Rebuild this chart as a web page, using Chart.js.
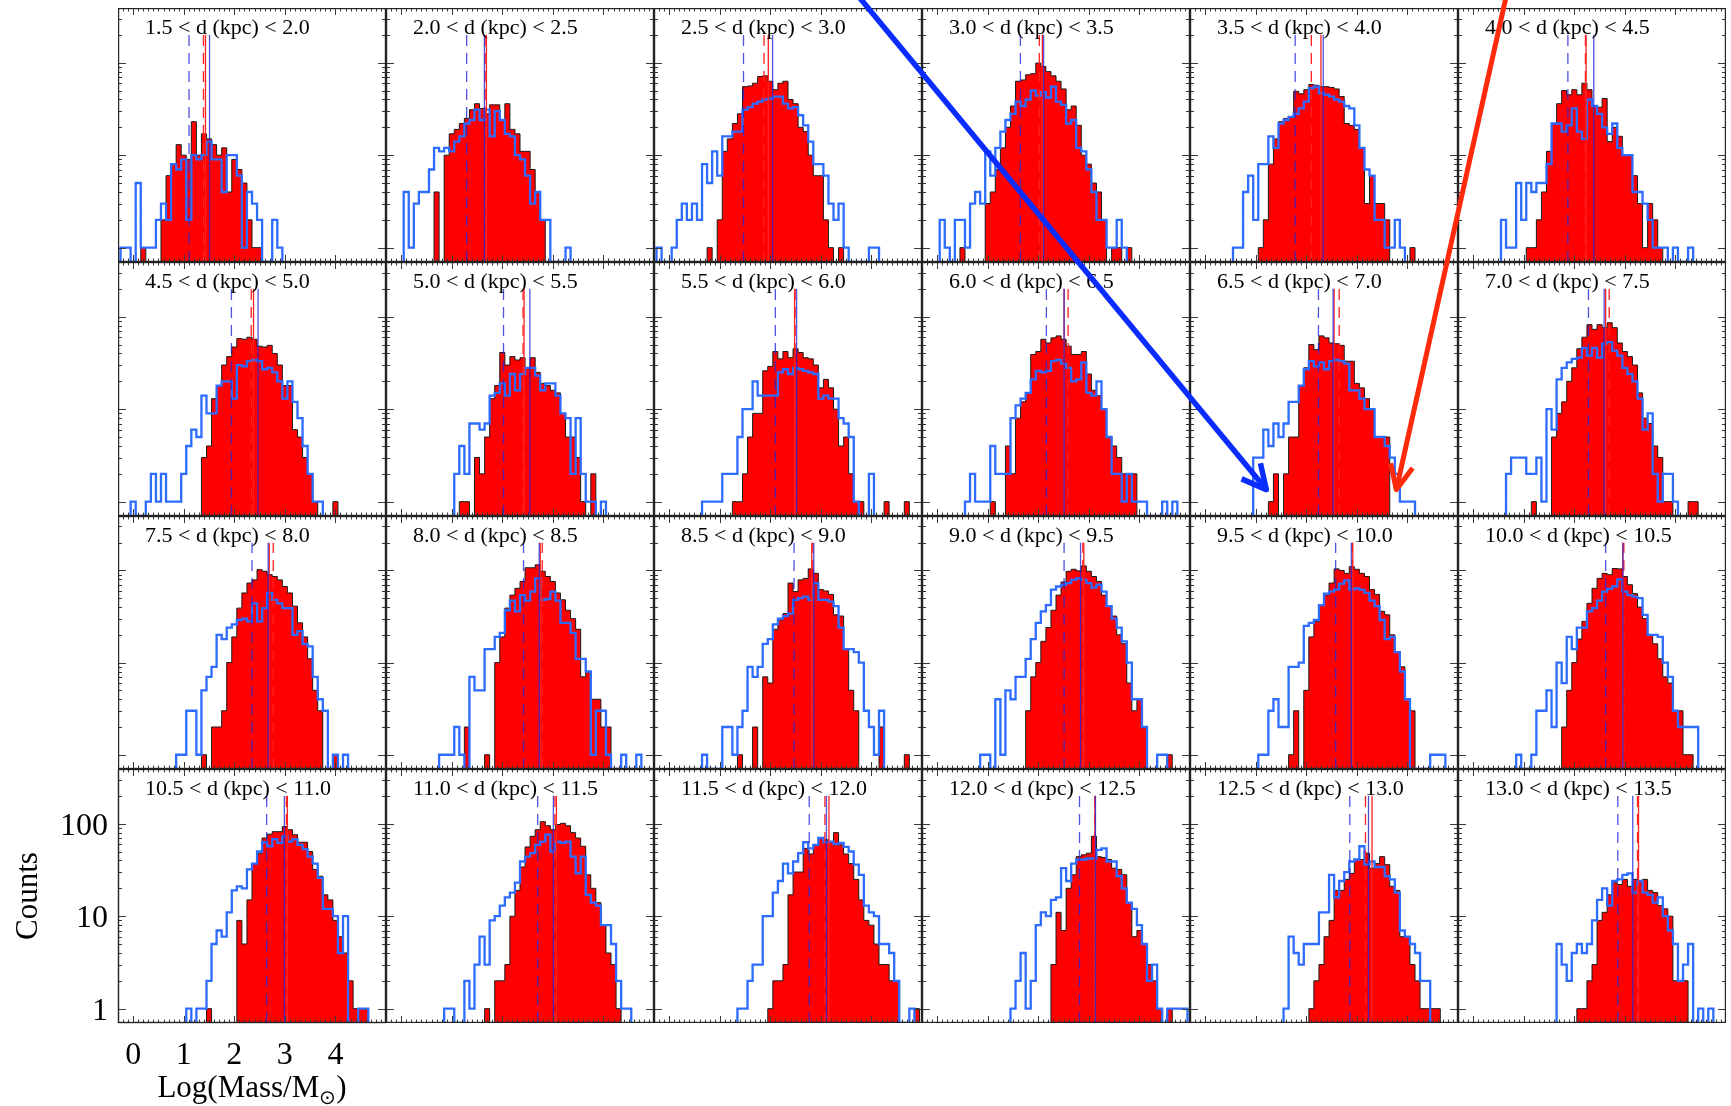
<!DOCTYPE html>
<html>
<head>
<meta charset="utf-8">
<script src="https://cdn.jsdelivr.net/npm/chart.js@4.4.1/dist/chart.umd.min.js"></script>
<style>
  html, body { margin: 0; padding: 0; background: #fff; }
  #page { position: relative; width: 1731px; height: 1106px; overflow: hidden; background: #fff; }
  #page canvas { position: absolute; }
</style>
</head>
<body>
<div id="page"></div>
<script>
// distance bins, one panel each
const panelLabels = [
  '1.5 < d (kpc) < 2.0', '2.0 < d (kpc) < 2.5', '2.5 < d (kpc) < 3.0', '3.0 < d (kpc) < 3.5', '3.5 < d (kpc) < 4.0', '4.0 < d (kpc) < 4.5',
  '4.5 < d (kpc) < 5.0', '5.0 < d (kpc) < 5.5', '5.5 < d (kpc) < 6.0', '6.0 < d (kpc) < 6.5', '6.5 < d (kpc) < 7.0', '7.0 < d (kpc) < 7.5',
  '7.5 < d (kpc) < 8.0', '8.0 < d (kpc) < 8.5', '8.5 < d (kpc) < 9.0', '9.0 < d (kpc) < 9.5', '9.5 < d (kpc) < 10.0', '10.0 < d (kpc) < 10.5',
  '10.5 < d (kpc) < 11.0', '11.0 < d (kpc) < 11.5', '11.5 < d (kpc) < 12.0', '12.0 < d (kpc) < 12.5', '12.5 < d (kpc) < 13.0', '13.0 < d (kpc) < 13.5'
];

// red (filled) histograms: centre of first bin, then counts per 0.1 dex bin
const redStart = [0.2, 0.7, 0.8, 0.5, 1.1, 1.1, 1.4, 1.2, 1.3, 1.1, 1.3, 1.2, 1.4, 1.3, 1.4, 1.8, 1.7, 1.8, 1.5, 1.7, 2.0, 2.3, 2.1, 2.1];
const redCounts = [
  [1,0,0,0,2,6,8,13,10,9,23,10,17,15,13,10,12,4,9,7,5,2,1,1],
  [4,0,10,17,19,22,25,31,36,32,28,35,35,24,36,19,17,11,11,7,4,2],
  [1,0,2,11,15,22,28,55,56,60,71,72,63,51,60,63,40,36,20,18,10,6,6,2,1,0,1],
  [1,0,0,0,0,3,4,7,12,20,34,63,65,74,76,99,91,80,72,63,52,31,34,21,10,8,5,4,2,0,1,1,0,1],
  [1,2,8,15,23,25,26,49,46,51,58,57,55,55,54,52,43,22,21,19,12,3,6,3,3,2,0,0,0,0,1],
  [1,1,2,4,11,22,36,50,45,51,45,60,51,34,33,41,14,20,16,10,10,6,3,1,3,2,1],
  [3,4,13,18,30,37,47,58,57,60,57,48,47,49,40,30,18,18,6,5,3,2,1,0,0,0,1],
  [1,1,0,3,2,5,13,18,41,30,37,34,36,28,36,25,19,18,16,15,9,5,5,3,1,0,2],
  [1,1,2,5,9,9,26,29,42,35,42,36,45,41,36,35,30,17,21,17,10,4,5,2,1,1,0,0,0,0,1,0,0,0,1],
  [1,0,0,4,2,8,12,15,39,42,57,52,59,62,57,48,39,39,42,24,16,14,10,5,4,3,2,2,2],
  [1,2,0,2,5,5,18,28,50,44,62,59,52,51,49,33,33,19,17,13,10,5,5,5],
  [1,0,0,0,5,9,12,20,28,45,60,82,73,82,76,86,76,52,42,37,30,15,8,7,4,3,1,1,0,0,0,1,1],
  [1,0,2,2,3,10,19,39,57,73,79,102,98,90,86,79,67,57,41,27,19,11,5,3,0,0,1],
  [2,0,0,0,1,0,10,19,39,54,64,76,107,107,115,98,86,76,57,48,37,30,23,7,8,4,4,2,2],
  [1,0,0,2,0,7,6,23,29,34,73,59,79,82,104,93,62,60,55,33,32,14,5,3,0,0,0,0,2,0,0,0,0,1],
  [3,7,10,17,24,37,54,75,98,103,99,112,98,86,76,54,41,32,20,16,6,3,4,2,0,0,0,0,1],
  [1,3,0,5,19,28,42,54,73,104,100,93,110,103,93,86,62,55,36,33,20,13,9,4,3],
  [2,5,10,18,28,44,64,82,93,90,105,104,86,70,56,40,30,20,16,11,7,6,3,3,1,1],
  [1,0,0,0,0,0,9,5,15,37,48,70,77,82,82,93,86,76,63,63,50,32,27,17,15,9,6,4,2,1,1,1],
  [1,0,2,2,3,10,19,34,56,73,86,105,95,86,98,101,95,80,70,57,28,20,14,8,4,3,1],
  [1,2,2,3,17,30,30,54,47,59,70,67,64,80,59,47,37,25,15,9,8,5,3,3,2,2,0,0,0,1],
  [3,11,7,20,28,44,46,48,73,44,43,41,33,32,28,14,6,7,5,3,2,1,0,1],
  [1,2,3,6,9,19,19,25,29,41,41,48,33,37,44,36,21,19,6,6,3,2,1,1,1,1],
  [1,1,2,3,9,11,17,23,22,25,21,25,24,25,19,18,13,12,10,2,2,2]
];

// blue (outline) histograms
const blueStart = [-0.2, 0.1, -0.2, 0.1, 0.6, 0.6, 0.0, 1.1, 0.7, 0.6, 1.0, 0.7, 0.9, 0.8, 0.7, 0.9, 1.1, 0.9, 1.1, 0.9, 1.4, 1.5, 1.6, 1.7];
const blueCounts = [
  [1,1,0,5,1,1,1,2,3,2,8,7,9,2,10,9,10,14,9,9,4,10,10,6,1,4,3,2,0,0,2,1],
  [4,1,3,4,4,7,12,11,12,11,14,16,22,24,31,24,31,16,30,24,17,16,10,9,6,3,4,2,2,0,0,0,1],
  [1,0,0,1,2,3,2,3,2,8,5,11,6,16,16,18,18,31,33,36,38,40,41,43,43,36,32,33,27,21,14,8,8,6,3,2,3,1,0,0,0,0,1,1],
  [2,1,0,2,2,1,3,4,3,11,6,12,18,24,28,38,34,40,50,44,48,42,55,38,35,22,24,12,11,7,4,2,2,1,1,2,1],
  [1,1,4,6,2,8,8,16,12,22,24,26,28,32,38,53,55,47,45,43,40,38,34,32,21,12,7,6,2,2,1,1,2,1],
  [2,1,1,5,2,5,4,5,5,8,22,22,18,21,32,18,15,40,34,28,20,17,22,12,10,10,4,4,3,2,1,1,1,0,1,0,0,1],
  [1,0,0,1,2,1,2,1,1,1,2,4,6,5,14,9,9,18,20,20,13,30,29,33,34,33,27,28,25,20,13,20,12,8,4,2,1,1],
  [2,4,2,7,7,6,7,14,15,19,14,24,16,24,28,28,23,16,19,19,14,9,8,2,8,2,1,1,0,1],
  [1,1,1,1,2,2,2,5,10,10,20,14,14,14,14,25,27,24,28,27,26,25,24,13,14,13,13,8,7,5,1,0,0,2],
  [1,2,1,1,1,4,2,2,2,8,11,13,15,21,26,25,26,33,34,31,28,20,21,32,15,14,20,10,5,2,2,1,2,1,1,1,0,0,0,1,0,1],
  [3,3,6,4,7,5,7,12,12,18,27,33,29,32,27,33,34,33,31,16,16,13,10,10,5,5,4,3,2,1,1,1],
  [2,3,3,3,2,2,3,1,10,6,21,28,32,35,36,46,38,46,36,51,53,43,38,28,24,20,13,6,9,2,1,2,2,1],
  [1,1,3,3,1,5,7,9,20,18,24,26,29,30,28,44,28,39,57,48,44,39,39,20,22,16,15,7,4,3,0,1,0,1],
  [1,1,1,2,1,0,7,5,5,14,14,19,21,37,47,36,54,47,59,82,48,49,59,47,27,27,21,11,11,8,1,3,3,1,0,0,1,0,0,1],
  [1,0,0,0,2,2,1,2,3,9,7,9,16,18,26,30,32,34,48,50,52,48,73,48,48,46,41,24,14,14,13,10,3,2,1,3],
  [1,1,0,4,1,5,4,7,7,11,18,27,36,42,62,67,70,73,79,82,79,73,65,70,59,41,30,24,17,10,4,4,2,0,0,1,1],
  [1,1,3,4,2,2,9,9,10,25,27,29,42,56,59,62,72,78,62,64,62,57,47,41,29,18,19,13,8,4,0,0,0,0,1,1,1],
  [1,0,0,1,3,3,5,2,10,6,19,14,24,24,36,39,47,59,63,67,80,59,54,52,50,33,20,20,19,10,7,3,2,2,2,2],
  [1,0,1,1,2,5,7,6,11,19,21,20,32,37,50,63,57,68,62,73,64,68,59,53,44,37,26,12,12,10,4,10,0,0,1,1],
  [1,1,0,0,2,1,3,6,3,9,10,13,16,18,23,39,44,48,59,64,76,50,64,62,64,44,29,44,17,14,13,8,8,5,2,1,1],
  [1,1,2,3,3,10,10,18,24,37,29,39,48,63,54,59,70,63,64,60,62,56,50,36,28,13,11,10,5,5,4,2,0,0,1],
  [1,2,4,1,2,8,11,10,15,16,33,24,37,41,41,42,42,52,54,39,39,27,20,14,12,8,5,2,3,1,0,1,1,1,1],
  [1,6,4,3,5,5,5,11,11,28,16,24,30,39,41,57,36,39,34,34,27,25,18,7,6,5,4,2,2],
  [5,3,2,4,5,4,5,9,15,20,13,24,25,28,29,18,24,18,17,14,16,10,7,5,2,3,5,0,1,0,1]
];

// vertical markers (log mass) per panel
const redLine  = [1.43, 1.686, 1.96, 2.08, 2.29, 2.234, 2.38, 2.43, 2.48, 2.51, 2.55, 2.62, 2.69, 2.75, 2.82, 2.90, 2.92, 2.96, 3.05, 3.07, 3.16, 3.12, 3.30, 3.27];
const redDash  = [1.39, 1.66, 1.876, 2.02, 2.10, 2.22, 2.335, 2.41, 2.49, 2.59, 2.65, 2.69, 2.77, 2.79, 2.84, 2.88, 2.91, 2.98, 3.03, 3.04, 3.08, 3.12, 3.17, 3.25];
const blueLine = [1.51, 1.646, 2.045, 2.105, 2.335, 2.385, 2.47, 2.545, 2.52, 2.51, 2.53, 2.59, 2.67, 2.73, 2.86, 2.835, 2.89, 2.96, 2.99, 3.01, 3.11, 3.13, 3.23, 3.156];
const blueDash = [1.105, 1.295, 1.47, 1.646, 1.78, 1.873, 1.943, 2.024, 2.10, 2.16, 2.24, 2.28, 2.35, 2.42, 2.47, 2.51, 2.58, 2.62, 2.64, 2.70, 2.77, 2.815, 2.86, 2.86];

const xTickLabels = [0, 1, 2, 3, 4];
const yTickLabels = [1, 10, 100];

// arrows, in data units of the 6.5-7.0 panel
const arrowPanel = 10;
const arrowFrom = [[-6.92, 3.2e5], [5.97, 3.2e5]];
const arrowTo = [[1.21, 1.35], [3.78, 1.35]];

const X_MIN = -0.3, X_MAX = 5.0, Y_MIN = 0.7, Y_MAX = 390, BIN = 0.1, LINE_TOP = 200;
const SERIF = '"Liberation Serif", "Times New Roman", serif';

function steps(start, counts) {
  const x0 = start - BIN / 2;
  const pts = [{ x: x0, y: Y_MIN }];
  counts.forEach((c, i) => pts.push({ x: x0 + i * BIN, y: c > 0 ? c : Y_MIN }));
  pts.push({ x: x0 + counts.length * BIN, y: Y_MIN });
  return pts;
}

function vline(x, color, dash, order) {
  return {
    data: [{ x: x, y: Y_MIN }, { x: x, y: LINE_TOP }],
    borderColor: color, borderWidth: 1.3, borderDash: dash,
    pointRadius: 0, fill: false, order: order
  };
}

function decoPlugin(label) {
  return {
    id: 'panelDeco',
    afterDatasetsDraw(chart) {
      const { ctx, chartArea: a, scales: { x, y } } = chart;
      ctx.save();
      ctx.strokeStyle = '#3a3a3a';
      ctx.lineWidth = 1;
      ctx.beginPath();
      for (let k = -3; k <= 50; k++) {
        const px = Math.round(x.getPixelForValue(k / 10)) + 0.5;
        const len = k % 10 === 0 ? 7 : 3.5;
        ctx.moveTo(px, a.bottom); ctx.lineTo(px, a.bottom - len);
        ctx.moveTo(px, a.top); ctx.lineTo(px, a.top + len);
      }
      for (let d = 0; d <= 2; d++) {
        for (let m = 1; m <= 9; m++) {
          const v = m * Math.pow(10, d);
          if (v > Y_MAX) continue;
          const py = Math.round(y.getPixelForValue(v)) + 0.5;
          const len = m === 1 ? 8 : 4;
          ctx.moveTo(a.left, py); ctx.lineTo(a.left + len, py);
          ctx.moveTo(a.right, py); ctx.lineTo(a.right - len, py);
        }
      }
      ctx.stroke();
      ctx.strokeStyle = '#222';
      ctx.lineWidth = 1.4;
      ctx.strokeRect(a.left + 0.5, a.top + 0.5, a.width - 1, a.height - 1);
      ctx.fillStyle = '#000';
      ctx.font = '22px ' + SERIF;
      ctx.textAlign = 'left';
      ctx.textBaseline = 'alphabetic';
      ctx.fillText(label, a.left + 27, a.top + 26);
      ctx.restore();
    }
  };
}

const axisPlugin = {
  id: 'axisLabels',
  afterDraw(chart) {
    const { ctx, chartArea: a, scales: { x, y } } = chart;
    ctx.save();
    ctx.fillStyle = '#000';
    ctx.font = '32px ' + SERIF;
    ctx.textAlign = 'center';
    ctx.textBaseline = 'alphabetic';
    xTickLabels.forEach(v => ctx.fillText(String(v), x.getPixelForValue(v), a.bottom + 41));
    ctx.textAlign = 'right';
    yTickLabels.forEach(v => ctx.fillText(String(v), a.left - 10, y.getPixelForValue(v) + 11));
    // y title
    ctx.save();
    ctx.translate(37, a.top + a.height / 2);
    ctx.rotate(-Math.PI / 2);
    ctx.textAlign = 'center';
    ctx.font = '31px ' + SERIF;
    ctx.fillText('Counts', 0, 0);
    ctx.restore();
    // x title with subscript sun symbol
    const main = 'Log(Mass/M', sub = '\u2299', tail = ')';
    ctx.font = '31px ' + SERIF;
    const w1 = ctx.measureText(main).width, w3 = ctx.measureText(tail).width;
    ctx.font = '20px ' + SERIF;
    const w2 = ctx.measureText(sub).width;
    let cx = a.left + a.width / 2 - (w1 + w2 + w3) / 2;
    const base = a.bottom + 74;
    ctx.textAlign = 'left';
    ctx.font = '31px ' + SERIF;
    ctx.fillText(main, cx, base); cx += w1;
    ctx.font = '20px ' + SERIF;
    ctx.fillText(sub, cx, base + 7); cx += w2;
    ctx.font = '31px ' + SERIF;
    ctx.fillText(tail, cx, base);
    ctx.restore();
  }
};

const page = document.getElementById('page');
const charts = [];
const offsets = [];
const GRID_LEFT = 118, GRID_TOP = 8, PANEL_W = 268, PANEL_H = 253.75, PAGE_H = 1106;

for (let i = 0; i < panelLabels.length; i++) {
  const r = Math.floor(i / 6), c = i % 6;
  const top = GRID_TOP + Math.round(r * PANEL_H);
  const bottom = GRID_TOP + Math.round((r + 1) * PANEL_H);
  const left = GRID_LEFT + c * PANEL_W;
  const corner = (r === 3 && c === 0);
  const cv = document.createElement('canvas');
  const cl = corner ? 0 : left;
  const cw = corner ? left + PANEL_W : PANEL_W;
  const ch = corner ? PAGE_H - top : bottom - top;
  cv.width = cw; cv.height = ch;
  cv.style.left = cl + 'px'; cv.style.top = top + 'px';
  cv.style.width = cw + 'px'; cv.style.height = ch + 'px';
  page.appendChild(cv);
  offsets.push({ left: cl, top: top });

  const plugins = [decoPlugin(panelLabels[i])];
  if (corner) plugins.push(axisPlugin);

  charts.push(new Chart(cv.getContext('2d'), {
    type: 'line',
    data: {
      datasets: [
        { data: steps(redStart[i], redCounts[i]), stepped: 'before', fill: 'start',
          backgroundColor: '#ff0000', borderColor: '#1a1a1a', borderWidth: 1, pointRadius: 0, order: 6 },
        { data: steps(blueStart[i], blueCounts[i]), stepped: 'before', fill: false,
          borderColor: 'rgb(45,108,255)', borderWidth: 2.3, pointRadius: 0, order: 5 },
        vline(redDash[i], '#ff2020', [11, 7], 4),
        vline(redLine[i], '#ff2020', [], 3),
        vline(blueDash[i], 'rgba(35,40,215,0.8)', [11, 7], 2),
        vline(blueLine[i], 'rgba(35,40,215,0.8)', [], 1)
      ]
    },
    options: {
      responsive: false,
      animation: false,
      devicePixelRatio: 1,
      events: [],
      layout: { padding: corner ? { left: left, top: 0, right: 0, bottom: PAGE_H - bottom } : 0 },
      plugins: { legend: { display: false }, tooltip: { enabled: false } },
      scales: {
        x: { type: 'linear', min: X_MIN, max: X_MAX, display: false },
        y: { type: 'logarithmic', min: Y_MIN, max: Y_MAX, display: false }
      }
    },
    plugins: plugins
  }));
}

// arrows on top of everything
const over = document.createElement('canvas');
over.width = 1731; over.height = PAGE_H;
over.style.left = '0px'; over.style.top = '0px';
page.appendChild(over);
const octx = over.getContext('2d');
const ref = charts[arrowPanel], off = offsets[arrowPanel];
const toPage = p => [off.left + ref.scales.x.getPixelForValue(p[0]), off.top + ref.scales.y.getPixelForValue(p[1])];
const arrowStyle = [{ color: '#0a2cff', width: 5.5, spread: 0.47 }, { color: '#ff2a0a', width: 5, spread: 0.43 }];
arrowFrom.forEach((from, k) => {
  const [x1, y1] = toPage(from), [x2, y2] = toPage(arrowTo[k]);
  const st = arrowStyle[k];
  const ang = Math.atan2(y1 - y2, x1 - x2);
  octx.strokeStyle = st.color;
  octx.lineWidth = st.width;
  octx.lineJoin = 'round';
  octx.lineCap = 'butt';
  octx.beginPath();
  octx.moveTo(x1, y1); octx.lineTo(x2, y2);
  octx.stroke();
  octx.beginPath();
  octx.moveTo(x2 + 27 * Math.cos(ang + st.spread), y2 + 27 * Math.sin(ang + st.spread));
  octx.lineTo(x2, y2);
  octx.lineTo(x2 + 27 * Math.cos(ang - st.spread), y2 + 27 * Math.sin(ang - st.spread));
  octx.stroke();
});
</script>
</body>
</html>
